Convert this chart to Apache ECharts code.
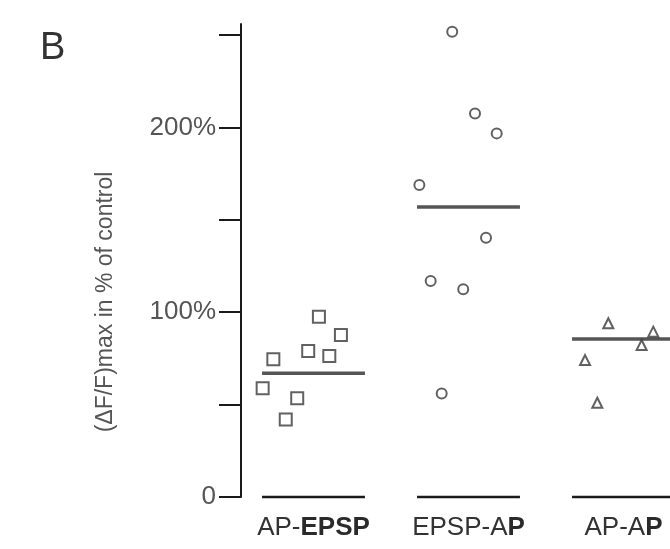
<!DOCTYPE html>
<html>
<head>
<meta charset="utf-8">
<script src="https://cdn.jsdelivr.net/npm/echarts@6/dist/echarts.min.js"></script>
<style>html,body{margin:0;padding:0;background:#fff;}#c{width:670px;height:549px;}</style>
</head>
<body>
<div id="c"></div>
<script>
// ---- data ----
var categories = ['AP-{b|EPSP}', 'EPSP-A{b|P}', 'AP-A{b|P}'];
// horizontal jitter within each group (fraction of group spacing) and values (% of control)
var apEpspJitter = [0.035, 0.177, -0.259, -0.034, 0.102, -0.328, -0.105, -0.179];
var apEpspValues = [97.6, 87.7, 74.5, 79, 76.3, 58.8, 53.4, 42];
var epspApJitter = [-0.105, 0.042, 0.182, -0.317, 0.113, -0.244, -0.034, -0.173];
var epspApValues = [251.8, 207.6, 196.8, 168.8, 140.3, 116.9, 112.4, 56];
var apApJitter = [-0.098, 0.192, 0.117, -0.248, -0.169];
var apApValues = [94, 89.5, 82.3, 74.1, 51];
var means = [67, 157, 85.5];
var yTickValues = [0, 50, 100, 150, 200, 250];
var yLabelValues = [0, 100, 200];
var yTitle = '(ΔF/F)max in % of control';

// ---- build ----
function pts(k, jit, vals) {
  return vals.map(function (v, i) { return [k + jit[i], v]; });
}
var halfW = 0.332;
var font = "'Liberation Sans', Arial, Helvetica, sans-serif";
var series = [];
var symbols = ['rect', 'circle', 'triangle'];
var sizes = [12, 10, 10];
var groups = [[apEpspJitter, apEpspValues], [epspApJitter, epspApValues], [apApJitter, apApValues]];
groups.forEach(function (g, k) {
  series.push({
    type: 'scatter', symbol: symbols[k], symbolSize: sizes[k],
    data: pts(k, g[0], g[1]),
    itemStyle: { color: '#fff', borderColor: '#3a3a3a', borderWidth: 2 },
    clip: false, z: 3
  });
  series.push({
    type: 'line', symbol: 'none', clip: false, z: 2,
    data: [[k - halfW, means[k]], [k + halfW, means[k]]],
    lineStyle: { color: '#555', width: 3.5 }
  });
  series.push({
    type: 'line', symbol: 'none', clip: false, z: 2,
    data: [[k - halfW, 0], [k + halfW, 0]],
    lineStyle: { color: '#1a1a1a', width: 2.5 }
  });
});

var chart = echarts.init(document.getElementById('c'));
chart.setOption({
  animation: false,
  backgroundColor: '#fff',
  grid: { left: 241, right: 0, top: 24, bottom: 52 },
  xAxis: {
    type: 'value', min: -0.4677, max: 2.3,
    axisLine: { show: false }, axisTick: { show: false }, splitLine: { show: false },
    axisLabel: {
      customValues: [0, 1, 2], margin: 18,
      fontFamily: font, fontSize: 26, color: '#333',
      formatter: function (v) { return categories[Math.round(v)]; },
      rich: { b: { fontFamily: font, fontSize: 26, fontWeight: 'bold', color: '#2a2a2a' } }
    }
  },
  yAxis: {
    type: 'value', min: 0, max: 256,
    axisLine: { show: true, onZero: false, lineStyle: { color: '#1a1a1a', width: 2 } },
    axisTick: { show: true, customValues: yTickValues, length: 22, lineStyle: { color: '#1a1a1a', width: 2 } },
    axisLabel: {
      customValues: yLabelValues, margin: 25,
      fontFamily: font, fontSize: 26, color: '#555',
      formatter: function (v) { return v === 0 ? '0' : v + '%'; }
    },
    splitLine: { show: false }
  },
  graphic: [{
    type: 'text', left: 40, top: 30,
    style: { text: 'B', fontFamily: font, fontSize: 38, fill: '#333' }
  }, {
    type: 'text', x: 106, y: 302, rotation: Math.PI / 2,
    style: { text: yTitle, fontFamily: font, fontSize: 23, fill: '#555', align: 'center', verticalAlign: 'middle' }
  }],
  series: series
});
</script>
</body>
</html>
